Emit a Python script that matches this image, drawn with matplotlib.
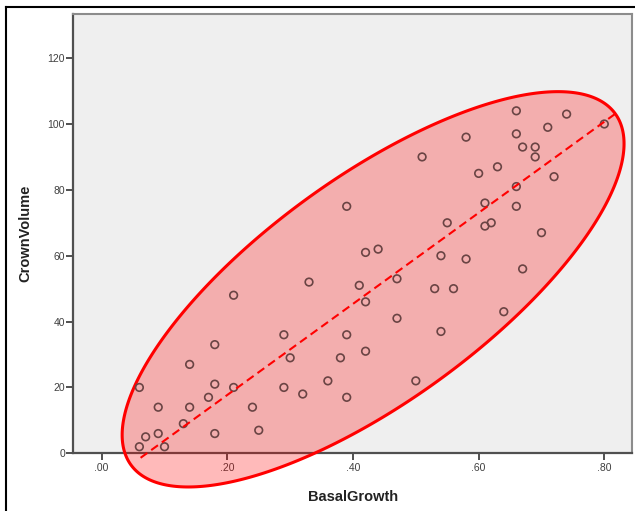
import numpy as np
import matplotlib
matplotlib.use('Agg')
import matplotlib.pyplot as plt
from matplotlib.lines import Line2D

# values
basal_growth = [0.06, 0.06, 0.07, 0.09, 0.09, 0.10, 0.13, 0.14, 0.14, 0.17,
                0.18, 0.18, 0.18, 0.21, 0.21, 0.24, 0.25, 0.29, 0.29, 0.30,
                0.32, 0.33, 0.36, 0.38, 0.39, 0.39, 0.39, 0.41, 0.42, 0.42,
                0.42, 0.44, 0.47, 0.47, 0.50, 0.51, 0.53, 0.54, 0.54, 0.55,
                0.56, 0.58, 0.58, 0.60, 0.61, 0.61, 0.62, 0.63, 0.64, 0.66,
                0.66, 0.66, 0.66, 0.67, 0.67, 0.69, 0.69, 0.70, 0.71, 0.72,
                0.74, 0.80]
crown_volume = [20, 2, 5, 14, 6, 2, 9, 27, 14, 17,
                33, 21, 6, 48, 20, 14, 7, 36, 20, 29,
                18, 52, 22, 29, 75, 36, 17, 51, 61, 46,
                31, 62, 53, 41, 22, 90, 50, 60, 37, 70,
                50, 96, 59, 85, 76, 69, 70, 87, 43, 104,
                97, 81, 75, 93, 56, 93, 90, 67, 99, 84,
                103, 100]

x_ticks = [0.0, 0.2, 0.4, 0.6, 0.8]
x_tick_labels = ['.00', '.20', '.40', '.60', '.80']
y_ticks = [0, 20, 40, 60, 80, 100, 120]

# annotation ellipse (data units): centre and the two semi-axis vectors
ell_center = (0.432, 49.8)
ell_major = (0.3855, 53.3)
ell_minor = (0.1045, -27.6)

plt.rcParams['font.family'] = ['Liberation Sans', 'DejaVu Sans']

fig = plt.figure(figsize=(6.35, 5.11), dpi=100)
ax = fig.add_axes([0.1154, 0.1129, 0.9957 - 0.1154, 0.9726 - 0.1129])
ax.set_facecolor('#efefef')

ax.scatter(basal_growth, crown_volume, s=30, facecolors='none',
           edgecolors='#6a4444', linewidths=1.2, zorder=4)

t = np.linspace(0, 2 * np.pi, 400)
ex = ell_center[0] + ell_major[0] * np.cos(t) + ell_minor[0] * np.sin(t)
ey = ell_center[1] + ell_major[1] * np.cos(t) + ell_minor[1] * np.sin(t)
ax.fill(ex, ey, facecolor=(1, 0, 0, 0.27), edgecolor='#ff0000',
        linewidth=2.2, zorder=3, clip_on=False)

# dashed major axis
s = np.array([-0.96, 1.0])
ax.plot(ell_center[0] + ell_major[0] * s, ell_center[1] + ell_major[1] * s,
        color='#ff0000', lw=1.5, dashes=(4, 2.3), zorder=5, clip_on=False)

ax.set_xlim(-0.0452, 0.8445)
ax.set_ylim(0, 133.4)
ax.set_xticks(x_ticks)
ax.set_xticklabels(x_tick_labels)
ax.set_yticks(y_ticks)

for side in ['left', 'bottom']:
    ax.spines[side].set_color('#505050')
    ax.spines[side].set_linewidth(1.6)
for side in ['top', 'right']:
    ax.spines[side].set_color('#8c8c8c')
    ax.spines[side].set_linewidth(1.5)

ax.tick_params(axis='both', direction='out', length=5, width=1.4,
               color='#505050', labelsize=7.5, labelcolor='#404040')
ax.tick_params(axis='y', pad=1)
ax.tick_params(axis='x', pad=2)

ax.set_xlabel('BasalGrowth', fontsize=10.5, fontweight='bold', color='#222222')
ax.set_ylabel('CrownVolume', fontsize=10.5, fontweight='bold', color='#222222')
ax.xaxis.set_label_coords(0.5, -0.0835)
ax.yaxis.set_label_coords(-0.074, 0.5)

# outer chart frame (left and top edge only)
fig.add_artist(Line2D([0.0102, 0.0102], [0.0, 0.9863], color='black', lw=1.5))
fig.add_artist(Line2D([0.0102, 1.0], [0.9863, 0.9863], color='black', lw=1.5))

plt.savefig('out.png', dpi=100)
plt.close()
